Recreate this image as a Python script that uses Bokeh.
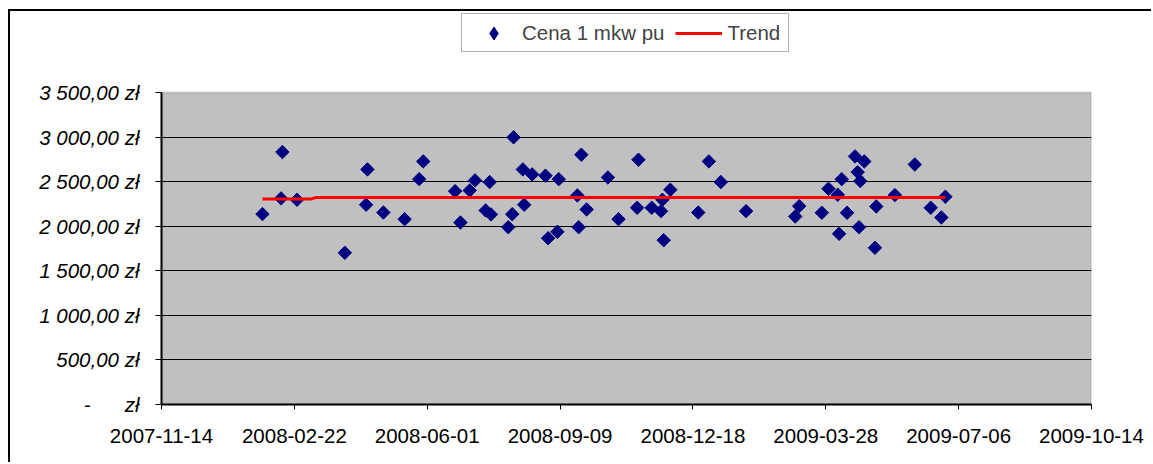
import numpy as np
import pandas as pd
from bokeh.plotting import figure
from bokeh.models import (FixedTicker, DatetimeTickFormatter, Legend, LegendItem, Range1d,
                          BoxAnnotation)
from bokeh.embed import file_html
from bokeh.resources import INLINE

# ---- data ----
dates = ["2008-01-29", "2008-02-12", "2008-02-13", "2008-02-24", "2008-03-31",
         "2008-04-16", "2008-04-17", "2008-04-29", "2008-05-15", "2008-05-26",
         "2008-05-29", "2008-06-22", "2008-06-26", "2008-07-03", "2008-07-07",
         "2008-07-15", "2008-07-18", "2008-07-19", "2008-08-01", "2008-08-04",
         "2008-08-05", "2008-08-12", "2008-08-13", "2008-08-19", "2008-08-29",
         "2008-08-31", "2008-09-07", "2008-09-08", "2008-09-22", "2008-09-23",
         "2008-09-25", "2008-09-29", "2008-10-15", "2008-10-23", "2008-11-06",
         "2008-11-07", "2008-11-17", "2008-11-24", "2008-11-25", "2008-11-26",
         "2008-12-01", "2008-12-22", "2008-12-30", "2009-01-08", "2009-01-27",
         "2009-03-05", "2009-03-08", "2009-03-25", "2009-03-30", "2009-04-06",
         "2009-04-07", "2009-04-09", "2009-04-13", "2009-04-19", "2009-04-21",
         "2009-04-22", "2009-04-23", "2009-04-26", "2009-05-04", "2009-05-05",
         "2009-05-19", "2009-06-03", "2009-06-15", "2009-06-23", "2009-06-26"]
prices = [2136, 2312, 2832, 2297, 1702,
          2241, 2637, 2154, 2079, 2528,
          2727, 2393, 2042, 2401, 2514,
          2177, 2495, 2132, 1989, 2135,
          2997, 2637, 2241, 2581, 2567,
          1866, 1937, 2528, 2345, 1989,
          2802, 2188, 2547, 2079, 2207,
          2746, 2207, 2169, 2297, 1843,
          2409, 2154, 2727, 2495, 2169,
          2109, 2225, 2151, 2420, 2353,
          1915, 2528, 2151, 2783, 2607,
          1989, 2506, 2727, 1758, 2222,
          2349, 2693, 2207, 2098, 2331]

trend_dates = ["2008-01-29", "2008-03-05", "2008-03-09", "2009-06-26"]
trend_values = [2304, 2304, 2321, 2321]

x_ticks = ["2007-11-14", "2008-02-22", "2008-06-01", "2008-09-09",
           "2008-12-18", "2009-03-28", "2009-07-06", "2009-10-14"]
y_ticks = [0, 500, 1000, 1500, 2000, 2500, 3000, 3500]
y_tick_labels = ["-\u00a0\u00a0\u00a0\u00a0\u00a0 z\u0142", "500,00 z\u0142", "1\u00a0000,00 z\u0142",
                 "1\u00a0500,00 z\u0142", "2\u00a0000,00 z\u0142", "2\u00a0500,00 z\u0142",
                 "3\u00a0000,00 z\u0142", "3\u00a0500,00 z\u0142"]

series_name = "Cena 1 mkw pu"
trend_name = "Trend"

# ---- layout constants (canvas pixels) ----
W, H = 1143, 453
FRAME_LEFT, FRAME_RIGHT = 151, 1081
FRAME_TOP, FRAME_BOTTOM = 0, 393
AREA_TOP = 81                      # pixel row of the top of the grey plot area
FONT = "Liberation Sans"
FS = "20.5px"
NAVY = "#000080"

y_max = y_ticks[-1]
y_end = y_max * (FRAME_BOTTOM - FRAME_TOP) / (FRAME_BOTTOM - AREA_TOP)

xd = pd.to_datetime(dates)
td = pd.to_datetime(trend_dates)
xt = [t.timestamp() * 1000 for t in pd.to_datetime(x_ticks)]

p = figure(width=W, height=H, x_axis_type="datetime",
           output_backend="svg", toolbar_location=None,
           x_range=Range1d(xt[0], xt[-1]), y_range=Range1d(0, y_end),
           min_border_left=FRAME_LEFT, min_border_right=W - FRAME_RIGHT,
           min_border_top=FRAME_TOP, min_border_bottom=H - FRAME_BOTTOM)
# outer chart border (Excel chart area), only top and left edges visible
p.styles = {"margin-left": "10px", "margin-top": "11px",
            "box-shadow": "-2px -2px 0px 0px black"}

p.background_fill_color = "white"
p.border_fill_color = "white"
p.outline_line_color = None

# grey plot area with grey top/right border
area = BoxAnnotation(bottom=0, top=y_max, fill_color="#C0C0C0", fill_alpha=1,
                     line_color="#808080", line_width=2, level="image")
p.add_layout(area)

p.xgrid.visible = False
p.ygrid.ticker = FixedTicker(ticks=y_ticks[1:-1])
p.ygrid.grid_line_color = "black"
p.ygrid.grid_line_width = 1.2

# axes
p.xaxis.ticker = FixedTicker(ticks=xt)
fmt = "%Y-%m-%d"
p.xaxis.formatter = DatetimeTickFormatter(microseconds=fmt, milliseconds=fmt, seconds=fmt,
                                          minsec=fmt, minutes=fmt, hourmin=fmt, hours=fmt,
                                          days=fmt, months=fmt, years=fmt)
p.yaxis.ticker = FixedTicker(ticks=y_ticks)
p.yaxis.bounds = (0, y_max)
p.yaxis.major_label_overrides = {v: l for v, l in zip(y_ticks, y_tick_labels)}

for ax in (p.xaxis[0], p.yaxis[0]):
    ax.axis_line_color = "black"
    ax.axis_line_width = 2
    ax.major_tick_line_color = "black"
    ax.major_tick_line_width = 1
    ax.major_tick_in = 0
    ax.minor_tick_line_color = None
    ax.major_label_text_font = FONT
    ax.major_label_text_font_size = FS
    ax.major_label_text_color = "black"

p.xaxis.major_tick_out = 5
p.xaxis.major_label_standoff = 19
p.yaxis.major_tick_out = 6
p.yaxis.major_label_standoff = 16
p.yaxis.major_label_text_font_style = "italic"

# glyphs
sc = p.scatter(xd, prices, marker="square", angle=0.785398, size=9.5,
               fill_color=NAVY, line_color=NAVY)
tr = p.line(td, trend_values, line_color="#FF0000", line_width=3)
# legend sample for the diamond series (no data, only its legend swatch)
sample = p.scatter([np.nan], [np.nan], marker="diamond", size=13,
                   fill_color=NAVY, line_color=NAVY)

# legend frame
legend_box = BoxAnnotation(left=451, right=778, top=2, bottom=40,
                           left_units="canvas", right_units="canvas",
                           top_units="canvas", bottom_units="canvas",
                           fill_color="white", fill_alpha=1,
                           line_color="black", line_width=1)
p.add_layout(legend_box)

legend = Legend(items=[LegendItem(label=series_name, renderers=[sample]),
                       LegendItem(label=trend_name, renderers=[tr])],
                orientation="horizontal", location=(309, 355),
                glyph_width=47, glyph_height=32, label_standoff=5, spacing=11,
                padding=5, margin=0,
                label_text_font=FONT, label_text_font_size=FS,
                border_line_color=None, background_fill_alpha=0)
p.add_layout(legend, "center")

open("out.html", "w").write(file_html(p, INLINE))
